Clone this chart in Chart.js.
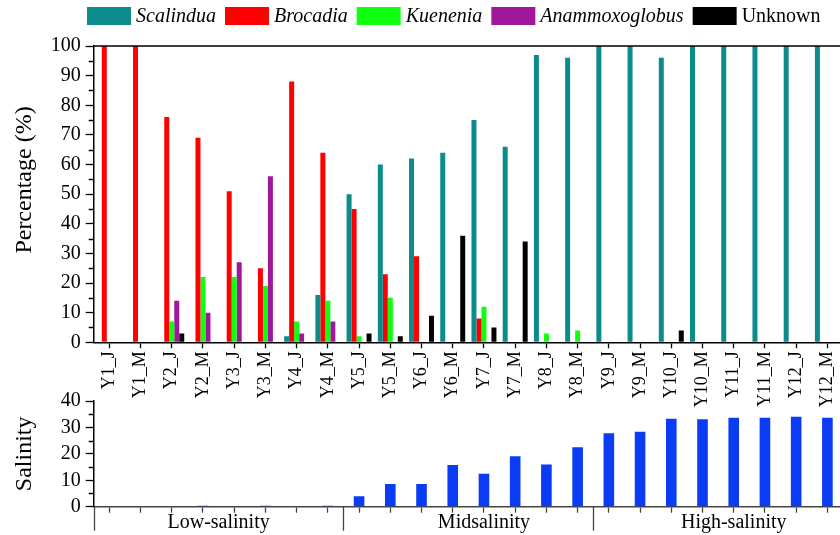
<!DOCTYPE html>
<html>
<head>
<meta charset="utf-8">
<script src="https://cdn.jsdelivr.net/npm/chart.js@4.4.1/dist/chart.umd.min.js"></script>
<style>
  html, body { margin: 0; padding: 0; width: 840px; height: 535px; overflow: hidden; background: #fff; }
  canvas { position: absolute; left: 0; }
  #genusChart { top: 0; }
  #salinityChart { top: 380px; }
</style>
</head>
<body>
<canvas id="genusChart" width="860" height="420"></canvas>
<canvas id="salinityChart" width="860" height="155"></canvas>
<script>
// Sampling sites (year / month)
const samples = ['Y1_J','Y1_M','Y2_J','Y2_M','Y3_J','Y3_M','Y4_J','Y4_M',
                 'Y5_J','Y5_M','Y6_J','Y6_M','Y7_J','Y7_M','Y8_J','Y8_M',
                 'Y9_J','Y9_M','Y10_J','Y10_M','Y11_J','Y11_M','Y12_J','Y12_M'];

// Relative abundance of anammox genera (%)
const scalindua     = [0,0,0,0,0,0,2,16,50,60,62,64,75,66,97,96,100,100,96,100,100,100,100,100];
const brocadia      = [100,100,76,69,51,25,88,64,45,23,29,0,8,0,0,0,0,0,0,0,0,0,0,0];
const kuenenia      = [0,0,7,22,22,19,7,14,2,15,0,0,12,0,3,4,0,0,0,0,0,0,0,0];
const anammoxoglobus= [0,0,14,10,27,56,3,7,0,0,0,0,0,0,0,0,0,0,0,0,0,0,0,0];
const unknown       = [0,0,3,0,0,0,0,0,3,2,9,36,5,34,0,0,0,0,4,0,0,0,0,0];

// Salinity at each site
const salinity = [0,0,0,0.4,0,0.4,0,0.4,4,8.6,8.6,15.8,12.5,19.1,16,22.5,27.8,28.4,33.3,33.1,33.7,33.7,34,33.7];

// Salinity zones
const zoneNames = ['Low-salinity','Midsalinity','High-salinity'];
const zoneBreaks = [7.5, 15.5];           // boundaries between zones (sample index)
const zoneLabelAt = [3.5, 12, 20];        // label centre (sample index)

const genusNames  = ['Scalindua','Brocadia','Kuenenia','Anammoxoglobus','Unknown'];
const genusColors = ['#0B8B8C','#FF0000','#10FF10','#A0179B','#000000'];
const genusItalic = [true,true,true,true,false];
const genusValues = [scalindua, brocadia, kuenenia, anammoxoglobus, unknown];

const SERIF = "'Liberation Serif','Times New Roman',serif";
Chart.defaults.font.family = SERIF;
Chart.defaults.color = '#000';

const AXIS_LEFT = 93.7;

function drawMinorTicks(chart, scaleId, values) {
  const { ctx } = chart;
  const s = chart.scales[scaleId];
  ctx.save();
  ctx.strokeStyle = '#000';
  ctx.lineWidth = 1.3;
  ctx.beginPath();
  values.forEach(v => {
    const y = Math.round(s.getPixelForValue(v)) + 0.5;
    ctx.moveTo(s.right - 5, y);
    ctx.lineTo(s.right, y);
  });
  ctx.stroke();
  ctx.restore();
}

const genusDecor = {
  id: 'genusDecor',
  afterDraw(chart) {
    const { ctx, chartArea: a } = chart;
    ctx.save();
    // frame
    ctx.strokeStyle = '#000';
    ctx.lineWidth = 1.5;
    ctx.beginPath();
    ctx.moveTo(a.left, a.top);
    ctx.lineTo(a.right, a.top);
    ctx.lineTo(a.right, a.bottom);
    ctx.stroke();
    ctx.restore();

    drawMinorTicks(chart, 'y', [5,15,25,35,45,55,65,75,85,95]);

    // legend row
    ctx.save();
    let x = 87;
    chart.data.datasets.forEach((ds, i) => {
      ctx.fillStyle = ds.backgroundColor;
      ctx.fillRect(x, 7, 44, 18);
      x += 49;
      ctx.font = (genusItalic[i] ? 'italic ' : '') + '20px ' + SERIF;
      ctx.fillStyle = '#000';
      ctx.textAlign = 'left';
      ctx.textBaseline = 'middle';
      ctx.fillText(ds.label, x, 17);
      x += ctx.measureText(ds.label).width + 9;
    });
    ctx.restore();

    // y title
    ctx.save();
    ctx.translate(25, 180);
    ctx.rotate(-Math.PI / 2);
    ctx.font = '24px ' + SERIF;
    ctx.fillStyle = '#000';
    ctx.textAlign = 'center';
    ctx.textBaseline = 'middle';
    ctx.fillText('Percentage (%)', 0, 0);
    ctx.restore();
  }
};

new Chart(document.getElementById('genusChart'), {
  type: 'bar',
  data: {
    labels: samples,
    datasets: genusNames.map((name, i) => ({
      label: name,
      data: genusValues[i],
      backgroundColor: genusColors[i],
      borderWidth: 0,
      categoryPercentage: 0.8,
      barPercentage: 1.0
    }))
  },
  options: {
    responsive: false,
    animation: false,
    devicePixelRatio: 1,
    layout: { padding: { top: 46, right: 17, left: 0, bottom: 0 } },
    plugins: { legend: { display: false }, tooltip: { enabled: false } },
    scales: {
      x: {
        afterFit: s => { s.height = 420 - 342.3; },
        grid: { display: true, drawOnChartArea: false, offset: false, tickLength: 6, tickWidth: 1.3, tickColor: '#000' },
        border: { display: true, color: '#000', width: 1.5 },
        ticks: { autoSkip: false, minRotation: 90, maxRotation: 90, padding: 3, font: { size: 18 }, color: '#000' }
      },
      y: {
        min: 0, max: 100,
        afterFit: s => { s.width = AXIS_LEFT; },
        grid: { display: true, drawOnChartArea: false, tickLength: 8, tickWidth: 1.3, tickColor: '#000' },
        border: { display: true, color: '#000', width: 1.5 },
        ticks: { stepSize: 10, autoSkip: false, maxTicksLimit: 20, padding: 5, font: { size: 20 }, color: '#000' }
      }
    }
  },
  plugins: [genusDecor]
});

const salinityDecor = {
  id: 'salinityDecor',
  afterDraw(chart) {
    const { ctx, chartArea: a } = chart;
    const xs = chart.scales.x;
    drawMinorTicks(chart, 'y', [5,15,25,35]);
    ctx.save();
    ctx.strokeStyle = '#444';
    ctx.lineWidth = 1.3;
    ctx.beginPath();
    [a.left].concat(zoneBreaks.map(b => xs.getPixelForValue(b))).forEach(px => {
      const x = Math.round(px) + 0.5;
      ctx.moveTo(x, a.bottom);
      ctx.lineTo(x, a.bottom + 24);
    });
    ctx.stroke();
    ctx.font = '20px ' + SERIF;
    ctx.fillStyle = '#000';
    ctx.textAlign = 'center';
    ctx.textBaseline = 'middle';
    zoneNames.forEach((n, i) => ctx.fillText(n, xs.getPixelForValue(zoneLabelAt[i]), a.bottom + 16));
    ctx.restore();

    ctx.save();
    ctx.translate(25, (a.top + a.bottom) / 2);
    ctx.rotate(-Math.PI / 2);
    ctx.font = '24px ' + SERIF;
    ctx.fillStyle = '#000';
    ctx.textAlign = 'center';
    ctx.textBaseline = 'middle';
    ctx.fillText('Salinity', 0, 0);
    ctx.restore();
  }
};

new Chart(document.getElementById('salinityChart'), {
  type: 'bar',
  data: {
    labels: samples,
    datasets: [{
      label: 'Salinity',
      data: salinity,
      backgroundColor: '#0A3CF5',
      borderWidth: 0,
      categoryPercentage: 1.0,
      barPercentage: 0.34
    }]
  },
  options: {
    responsive: false,
    animation: false,
    devicePixelRatio: 1,
    layout: { padding: { top: 21, right: 17, left: 0, bottom: 0 } },
    plugins: { legend: { display: false }, tooltip: { enabled: false } },
    scales: {
      x: {
        afterFit: s => { s.height = 28.3; },
        grid: { display: true, drawOnChartArea: false, offset: false, tickLength: 6, tickWidth: 1.3, tickColor: '#444' },
        border: { display: true, color: '#444', width: 1.5 },
        ticks: { display: false, autoSkip: false }
      },
      y: {
        min: 0, max: 40,
        afterFit: s => { s.width = AXIS_LEFT; },
        grid: { display: true, drawOnChartArea: false, tickLength: 8, tickWidth: 1.3, tickColor: '#000' },
        border: { display: true, color: '#000', width: 1.5 },
        ticks: { stepSize: 10, autoSkip: false, maxTicksLimit: 20, padding: 5, font: { size: 20 }, color: '#000' }
      }
    }
  },
  plugins: [salinityDecor]
});
</script>
</body>
</html>
